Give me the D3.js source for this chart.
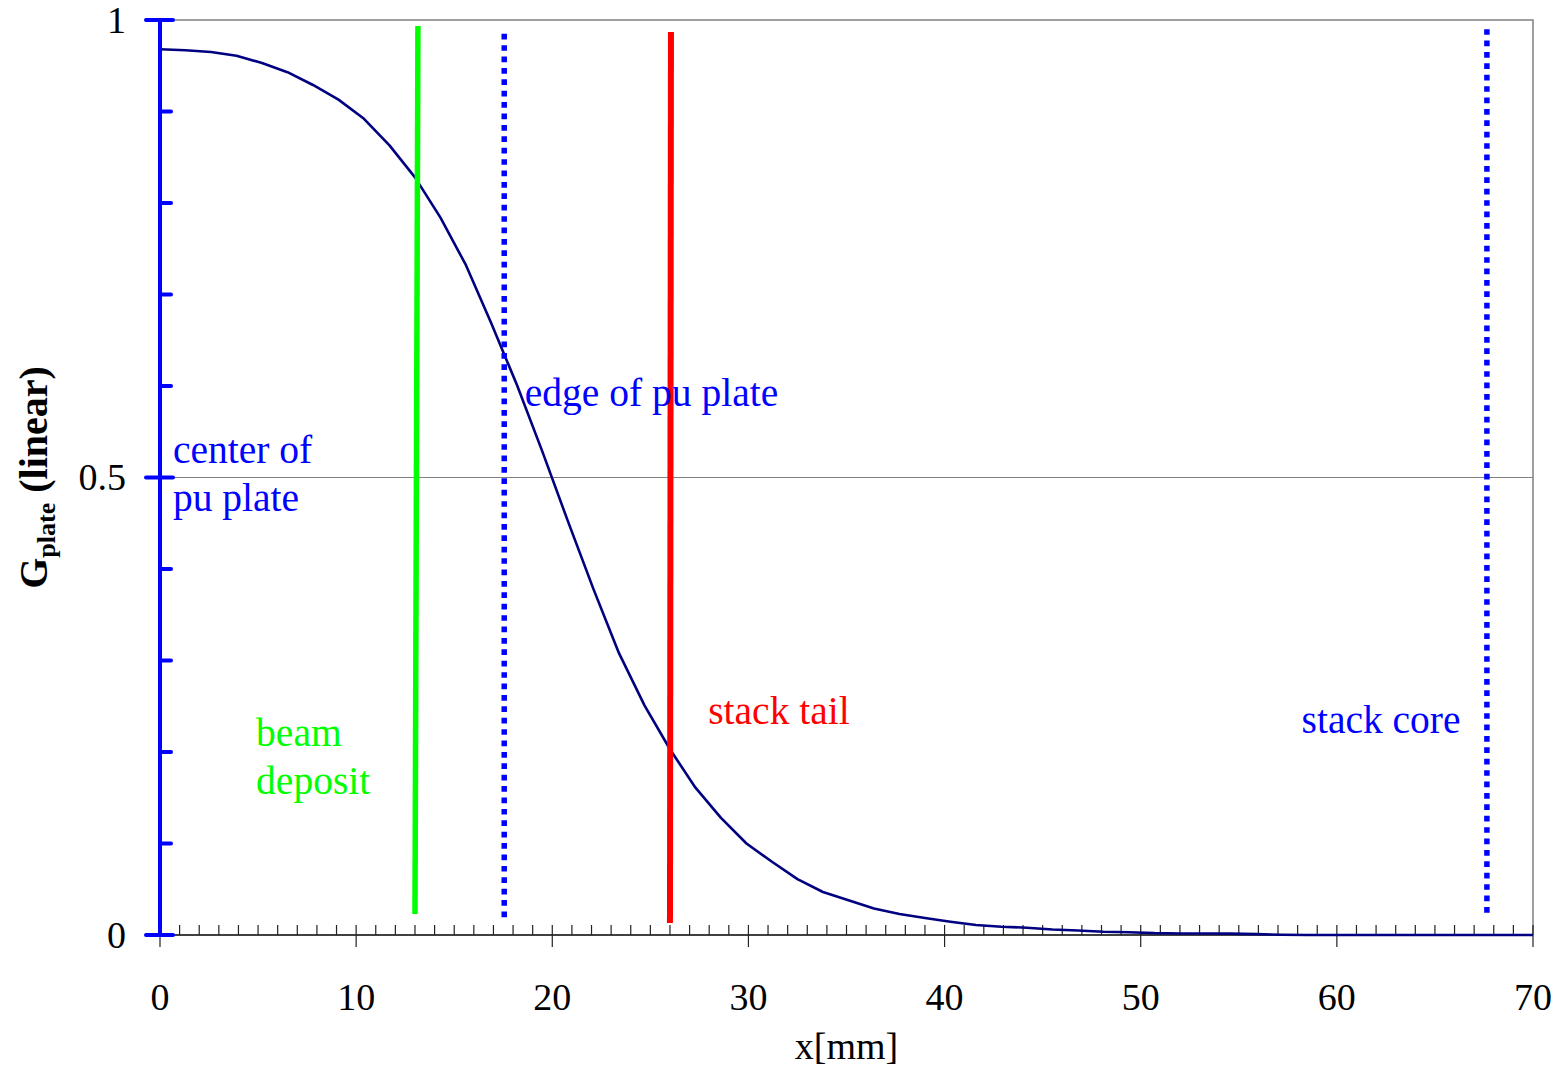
<!DOCTYPE html>
<html>
<head>
<meta charset="utf-8">
<script src="https://cdn.jsdelivr.net/npm/d3@7"></script>
<style>
  body { margin: 0; background: #fff; }
  text { font-family: "Liberation Serif", "Times New Roman", serif; }
</style>
</head>
<body>
<div class="mainDiv"></div>
<script>
// curve samples, x in mm and G_plate
const xs = [0, 1.3, 2.6, 3.9, 5.2, 6.5, 7.8, 9.1, 10.4, 11.7, 13.0, 14.3, 15.6, 16.9, 18.2, 19.5,
  20.8, 22.1, 23.4, 24.7, 26.0, 27.3, 28.6, 29.9, 31.2, 32.5, 33.8, 35.1, 36.4, 37.7, 39.0,
  40.3, 41.6, 42.9, 44.2, 45.5, 46.8, 48.1, 49.4, 50.7, 52.0, 53.3, 54.6, 55.9, 57.2, 58.5,
  59.8, 61.1, 62.4, 63.7, 65.0, 66.3, 67.6, 68.9, 70];
const gs = [0.968, 0.967, 0.965, 0.961, 0.953, 0.943, 0.929, 0.913, 0.892, 0.863, 0.828, 0.784,
  0.732, 0.668, 0.601, 0.528, 0.452, 0.378, 0.308, 0.251, 0.203, 0.161, 0.128, 0.100, 0.080,
  0.061, 0.047, 0.038, 0.029, 0.023, 0.0186, 0.0145, 0.011, 0.009, 0.008, 0.006, 0.005, 0.0036,
  0.003, 0.002, 0.0017, 0.0016, 0.0015, 0.001, 0.0003, 0, 0, 0, 0, 0, 0, 0, 0, 0, 0];

// marker lines: [x top, y top, x bottom, y bottom] in data units
const markerNames = ["beam", "edge", "tail", "core"];
const markerPos = [[13.15, 0.9935, 13.0, 0.023], [17.55, 0.985, 17.55, 0.017],
  [26.05, 0.987, 26.0, 0.013], [67.65, 0.99, 67.65, 0.024]];
const markerColors = ["#00ff00", "#0000ff", "#ff0000", "#0000ff"];
const markerDash = [null, "5.7 5.7", null, "5.7 5.7"];

// text labels: lines, x (mm), y (G) of first baseline
const labelLines = [["center of", "pu plate"], ["edge of pu plate"], ["beam", "deposit"], ["stack tail"], ["stack core"]];
const labelAt = [[0.66, 0.516], [18.6, 0.578], [4.9, 0.207], [27.95, 0.231], [58.2, 0.221]];
const labelColors = ["#0000ff", "#0000ff", "#00ff00", "#ff0000", "#0000ff"];

const xTicks = [0, 10, 20, 30, 40, 50, 60, 70];
const yTicks = [0, 0.5, 1];

const W = 1564, H = 1071;
const margin = {top: 20, right: 31, bottom: 136, left: 160};

const svg = d3.select('.mainDiv').append('svg')
  .attr('width', W).attr('height', H);

const x = d3.scaleLinear().domain([0, 70]).range([margin.left, W - margin.right]);
const y = d3.scaleLinear().domain([0, 1]).range([H - margin.bottom, margin.top]);

// frame (top and right) and gridline at 0.5
svg.append('path')
  .attr('d', `M${x(0)},${y(1)}H${x(70)}V${y(0)}`)
  .attr('fill', 'none').attr('stroke', '#808080').attr('stroke-width', 1.5);
svg.append('line')
  .attr('x1', x(0)).attr('x2', x(70)).attr('y1', y(0.5)).attr('y2', y(0.5))
  .attr('stroke', '#808080').attr('stroke-width', 1.2);

// x axis: line, minor ticks every mm, major every 10
svg.append('line')
  .attr('x1', x(0)).attr('x2', x(70)).attr('y1', y(0)).attr('y2', y(0))
  .attr('stroke', '#000').attr('stroke-width', 1.5);
svg.selectAll('.xminor').data(d3.range(0, 71))
  .join('line').attr('class', 'xminor')
  .attr('x1', d => x(d)).attr('x2', d => x(d))
  .attr('y1', y(0) - 10).attr('y2', d => d % 10 === 0 ? y(0) + 12 : y(0))
  .attr('stroke', '#222').attr('stroke-width', 1.2);
svg.selectAll('.xlab').data(xTicks)
  .join('text').attr('class', 'xlab')
  .attr('x', d => x(d)).attr('y', y(0) + 75)
  .attr('text-anchor', 'middle').attr('font-size', 38)
  .text(d => d);

// curve
const line = d3.line().x((d, i) => x(xs[i])).y(d => y(d));
svg.append('path').datum(gs)
  .attr('d', line)
  .attr('fill', 'none').attr('stroke', '#000080').attr('stroke-width', 2.6)
  .attr('stroke-linejoin', 'round');

// y axis (blue)
svg.append('line')
  .attr('x1', x(0)).attr('x2', x(0)).attr('y1', y(1)).attr('y2', y(0))
  .attr('stroke', '#0000ff').attr('stroke-width', 4);
svg.selectAll('.yminor').data(d3.range(0, 11).map(d => d / 10))
  .join('line').attr('class', 'yminor')
  .attr('x1', d => yTicks.includes(d) ? x(0) - 14 : x(0))
  .attr('x2', d => yTicks.includes(d) ? x(0) + 13 : x(0) + 11)
  .attr('y1', d => y(d)).attr('y2', d => y(d))
  .attr('stroke', '#0000ff').attr('stroke-width', 4).attr('stroke-linecap', 'round');
svg.selectAll('.ylab').data(yTicks)
  .join('text').attr('class', 'ylab')
  .attr('x', x(0) - 34).attr('y', d => y(d)).attr('dy', '0.34em')
  .attr('text-anchor', 'end').attr('font-size', 38)
  .text(d => d);

// marker lines
svg.selectAll('.marker').data(markerPos)
  .join('line').attr('class', 'marker')
  .attr('id', (d, i) => markerNames[i])
  .attr('x1', d => x(d[0])).attr('y1', d => y(d[1]))
  .attr('x2', d => x(d[2])).attr('y2', d => y(d[3]))
  .attr('stroke', (d, i) => markerColors[i])
  .attr('stroke-width', (d, i) => i === 2 ? 6 : 5.5)
  .attr('stroke-dasharray', (d, i) => markerDash[i]);

// labels
labelLines.forEach((lines, i) => {
  const t = svg.append('text')
    .attr('x', x(labelAt[i][0])).attr('y', y(labelAt[i][1]))
    .attr('font-size', 39.5).attr('fill', labelColors[i]);
  lines.forEach((s, j) => {
    t.append('tspan').attr('x', x(labelAt[i][0])).attr('dy', j === 0 ? 0 : 48).text(s);
  });
});

// axis titles
svg.append('text')
  .attr('x', (x(0) + x(70)) / 2).attr('y', H - 12)
  .attr('text-anchor', 'middle').attr('font-size', 38)
  .text('x[mm]');

const yt = svg.append('text')
  .attr('transform', `translate(47, ${y(0.5)}) rotate(-90)`)
  .attr('text-anchor', 'middle').attr('font-size', 40).attr('font-weight', 'bold');
yt.append('tspan').text('G');
yt.append('tspan').attr('font-size', 26).attr('dy', 8).text('plate');
yt.append('tspan').attr('dy', -8).text(' (linear)');
</script>
</body>
</html>
